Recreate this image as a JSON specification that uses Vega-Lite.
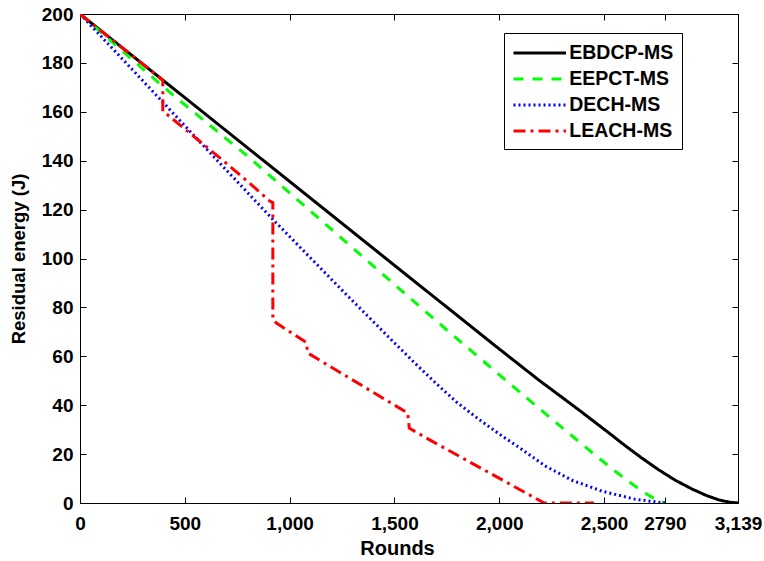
{
  "$schema": "https://vega.github.io/schema/vega-lite/v6.json",
  "width": 658,
  "height": 489,
  "autosize": {"type": "none"},
  "padding": {"left": 80, "top": 14, "right": 26, "bottom": 58},
  "background": "white",
  "config": {
    "view": {"stroke": "black", "strokeWidth": 1},
    "font": "Liberation Sans",
    "axis": {
      "grid": false,
      "domainColor": "black",
      "domainWidth": 1,
      "tickColor": "black",
      "tickWidth": 1,
      "tickSize": -6,
      "labelColor": "black",
      "labelFont": "Liberation Sans",
      "labelFontWeight": "bold",
      "labelFontSize": 19,
      "titleColor": "black",
      "titleFont": "Liberation Sans",
      "titleFontWeight": "bold"
    }
  },
  "data": {
    "values": [
      {"s": "EBDCP-MS", "i": 0, "x": 0, "y": 200},
      {"s": "EBDCP-MS", "i": 1, "x": 500, "y": 165.8},
      {"s": "EBDCP-MS", "i": 2, "x": 1000, "y": 131.5},
      {"s": "EBDCP-MS", "i": 3, "x": 1500, "y": 97.2},
      {"s": "EBDCP-MS", "i": 4, "x": 2000, "y": 63},
      {"s": "EBDCP-MS", "i": 5, "x": 2190, "y": 50.2},
      {"s": "EBDCP-MS", "i": 6, "x": 2381, "y": 38},
      {"s": "EBDCP-MS", "i": 7, "x": 2524, "y": 28.6},
      {"s": "EBDCP-MS", "i": 8, "x": 2600, "y": 23.5},
      {"s": "EBDCP-MS", "i": 9, "x": 2680, "y": 18.4},
      {"s": "EBDCP-MS", "i": 10, "x": 2760, "y": 13.6},
      {"s": "EBDCP-MS", "i": 11, "x": 2840, "y": 9.3},
      {"s": "EBDCP-MS", "i": 12, "x": 2920, "y": 5.7},
      {"s": "EBDCP-MS", "i": 13, "x": 2990, "y": 3.0},
      {"s": "EBDCP-MS", "i": 14, "x": 3050, "y": 1.2},
      {"s": "EBDCP-MS", "i": 15, "x": 3100, "y": 0.3},
      {"s": "EBDCP-MS", "i": 16, "x": 3139, "y": 0},

      {"s": "EEPCT-MS", "i": 0, "x": 0, "y": 200},
      {"s": "EEPCT-MS", "i": 1, "x": 433, "y": 167.6},
      {"s": "EEPCT-MS", "i": 2, "x": 800, "y": 141.8},
      {"s": "EEPCT-MS", "i": 3, "x": 1200, "y": 111.9},
      {"s": "EEPCT-MS", "i": 4, "x": 1619, "y": 80.5},
      {"s": "EEPCT-MS", "i": 5, "x": 1794, "y": 67.5},
      {"s": "EEPCT-MS", "i": 6, "x": 2048, "y": 49},
      {"s": "EEPCT-MS", "i": 7, "x": 2300, "y": 30.8},
      {"s": "EEPCT-MS", "i": 8, "x": 2476, "y": 18.3},
      {"s": "EEPCT-MS", "i": 9, "x": 2556, "y": 12.8},
      {"s": "EEPCT-MS", "i": 10, "x": 2651, "y": 6.7},
      {"s": "EEPCT-MS", "i": 11, "x": 2720, "y": 2.8},
      {"s": "EEPCT-MS", "i": 12, "x": 2762, "y": 0.9},
      {"s": "EEPCT-MS", "i": 13, "x": 2790, "y": 0},

      {"s": "DECH-MS", "i": 0, "x": 0, "y": 200},
      {"s": "DECH-MS", "i": 1, "x": 200, "y": 181.8},
      {"s": "DECH-MS", "i": 2, "x": 400, "y": 163.5},
      {"s": "DECH-MS", "i": 3, "x": 657, "y": 139.9},
      {"s": "DECH-MS", "i": 4, "x": 920, "y": 116},
      {"s": "DECH-MS", "i": 5, "x": 1278, "y": 84.6},
      {"s": "DECH-MS", "i": 6, "x": 1500, "y": 65.5},
      {"s": "DECH-MS", "i": 7, "x": 1600, "y": 57},
      {"s": "DECH-MS", "i": 8, "x": 1700, "y": 48.8},
      {"s": "DECH-MS", "i": 9, "x": 1800, "y": 41.0},
      {"s": "DECH-MS", "i": 10, "x": 1900, "y": 34.4},
      {"s": "DECH-MS", "i": 11, "x": 2000, "y": 28.2},
      {"s": "DECH-MS", "i": 12, "x": 2100, "y": 22.4},
      {"s": "DECH-MS", "i": 13, "x": 2222, "y": 15.0},
      {"s": "DECH-MS", "i": 14, "x": 2350, "y": 9.2},
      {"s": "DECH-MS", "i": 15, "x": 2492, "y": 4.8},
      {"s": "DECH-MS", "i": 16, "x": 2650, "y": 1.5},
      {"s": "DECH-MS", "i": 17, "x": 2790, "y": 0},

      {"s": "LEACH-MS", "i": 0, "x": 0, "y": 200},
      {"s": "LEACH-MS", "i": 1, "x": 395, "y": 172.9},
      {"s": "LEACH-MS", "i": 2, "x": 395, "y": 160.2},
      {"s": "LEACH-MS", "i": 3, "x": 419, "y": 158.7},
      {"s": "LEACH-MS", "i": 4, "x": 689, "y": 139.6},
      {"s": "LEACH-MS", "i": 5, "x": 800, "y": 131.5},
      {"s": "LEACH-MS", "i": 6, "x": 905, "y": 123.5},
      {"s": "LEACH-MS", "i": 7, "x": 920, "y": 122.8},
      {"s": "LEACH-MS", "i": 8, "x": 920, "y": 75},
      {"s": "LEACH-MS", "i": 9, "x": 937, "y": 73.6},
      {"s": "LEACH-MS", "i": 10, "x": 1079, "y": 65.7},
      {"s": "LEACH-MS", "i": 11, "x": 1087, "y": 61.3},
      {"s": "LEACH-MS", "i": 12, "x": 1563, "y": 36.8},
      {"s": "LEACH-MS", "i": 13, "x": 1571, "y": 30.6},
      {"s": "LEACH-MS", "i": 14, "x": 1683, "y": 25.1},
      {"s": "LEACH-MS", "i": 15, "x": 2214, "y": 0},
      {"s": "LEACH-MS", "i": 16, "x": 2452, "y": 0}
    ]
  },
  "layer": [
    {
      "mark": {"type": "line", "strokeWidth": 3, "clip": true},
      "encoding": {
        "x": {
          "field": "x", "type": "quantitative",
          "scale": {"domain": [0, 3139], "nice": false, "zero": false},
          "axis": {
            "orient": "bottom",
            "values": [0, 500, 1000, 1500, 2000, 2500, 2790, 3139],
            "labelExpr": "datum.value == 2790 ? '2790' : format(datum.value, ',')",
            "labelPadding": 17,
            "labelFlush": false,
            "labelOverlap": false,
            "title": "Rounds",
            "titleFontSize": 20,
            "titlePadding": 5,
            "titleX": 317
          }
        },
        "y": {
          "field": "y", "type": "quantitative",
          "scale": {"domain": [0, 200], "nice": false},
          "axis": {
            "orient": "left",
            "values": [0, 20, 40, 60, 80, 100, 120, 140, 160, 180, 200],
            "labelPadding": 13,
            "labelFlush": false,
            "labelOverlap": false,
            "title": "Residual energy (J)",
            "titleFontSize": 18.5,
            "titlePadding": 13
          }
        },
        "color": {
          "field": "s", "type": "nominal",
          "scale": {"domain": ["EBDCP-MS", "EEPCT-MS", "DECH-MS", "LEACH-MS"], "range": ["#000000", "#00ff00", "#0000ff", "#ff0000"]},
          "legend": {
            "title": null, "orient": "none", "legendX": 424, "legendY": 19,
            "symbolType": "M-2.5,0L2.5,0", "symbolSize": 441, "symbolStrokeWidth": 3,
            "symbolOffset": 15.75,
            "labelFont": "Liberation Sans", "labelFontWeight": "bold", "labelFontSize": 19.5, "labelColor": "black",
            "labelOffset": 17.5, "rowPadding": 4, "padding": 8,
            "fillColor": "white", "strokeColor": "black", "cornerRadius": 0
          }
        },
        "strokeDash": {
          "field": "s", "type": "nominal",
          "scale": {"domain": ["EBDCP-MS", "EEPCT-MS", "DECH-MS", "LEACH-MS"], "range": [[1, 0], [10, 9], [2, 3], [12, 5, 3, 5]]},
          "legend": {
            "title": null, "orient": "none", "legendX": 424, "legendY": 19,
            "symbolType": "M-2.5,0L2.5,0", "symbolSize": 441, "symbolStrokeWidth": 3,
            "symbolOffset": 15.75,
            "labelFont": "Liberation Sans", "labelFontWeight": "bold", "labelFontSize": 19.5, "labelColor": "black",
            "labelOffset": 17.5, "rowPadding": 4, "padding": 8,
            "fillColor": "white", "strokeColor": "black", "cornerRadius": 0
          }
        },
        "order": {"field": "i", "type": "quantitative"}
      }
    },
    {
      "mark": {"type": "line", "opacity": 0},
      "encoding": {
        "x": {
          "field": "x", "type": "quantitative",
          "axis": {"orient": "top", "values": [0, 500, 1000, 1500, 2000, 2500, 2790, 3139], "labels": false, "title": null}
        },
        "y": {
          "field": "y", "type": "quantitative",
          "axis": {"orient": "right", "values": [0, 20, 40, 60, 80, 100, 120, 140, 160, 180, 200], "labels": false, "title": null}
        },
        "detail": {"field": "s", "type": "nominal"},
        "order": {"field": "i", "type": "quantitative"}
      }
    }
  ],
  "resolve": {"axis": {"x": "independent", "y": "independent"}}
}
